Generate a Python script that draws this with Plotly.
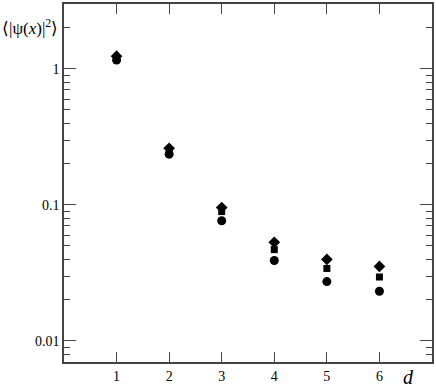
import plotly.graph_objects as go

d = [1, 2, 3, 4, 5, 6]
circles = [1.16, 0.236, 0.0764, 0.039, 0.0273, 0.0232]
squares = [1.20, 0.248, 0.0893, 0.0469, 0.0341, 0.0295]
diamonds = [1.24, 0.261, 0.0955, 0.0531, 0.0397, 0.0353]

W, H = 436, 388
ML, MR, MT, MB = 64, 2, 2, 26

fig = go.Figure()
fig.add_trace(go.Scatter(x=d, y=circles, mode='markers',
                         marker=dict(symbol='circle', size=9, color='black')))
fig.add_trace(go.Scatter(x=d, y=squares, mode='markers',
                         marker=dict(symbol='square', size=7, color='black')))
fig.add_trace(go.Scatter(x=d, y=diamonds, mode='markers',
                         marker=dict(symbol='diamond', size=9, color='black')))

serif = 'Liberation Serif, Times New Roman, serif'
fig.update_layout(
    width=W, height=H,
    margin=dict(l=ML, r=MR, t=MT, b=MB),
    paper_bgcolor='white', plot_bgcolor='white',
    showlegend=False,
    font=dict(family=serif, size=14, color='black'),
)
fig.update_xaxes(range=[0, 7], tickvals=d, ticks='inside', ticklen=10,
                 tickcolor='#444', showline=True, linecolor='#444', linewidth=1.5,
                 mirror='allticks', showgrid=False, zeroline=False)
fig.update_yaxes(type='log', range=[-2.155, 0.477], tickvals=[0.01, 0.1, 1],
                 ticktext=['0.01', '0.1', '1'], ticks='inside', ticklen=12,
                 tickcolor='#444', showline=True, linecolor='#444', linewidth=1.5,
                 mirror='allticks', showgrid=False, zeroline=False,
                 minor=dict(ticks='inside', ticklen=6, tickcolor='#444', dtick='D1', showgrid=False))

fig.add_annotation(text='⟨|ψ(<i>x</i>)|<sup>2</sup>⟩', xref='paper', yref='paper',
                   x=-ML / (W - ML - MR) - 0.002, xanchor='left', y=1 - 23 / (H - MT - MB),
                   yanchor='middle', showarrow=False, font=dict(family=serif, size=17))
fig.add_annotation(text='<i>d</i>', xref='paper', yref='paper',
                   x=0.935, xanchor='center', y=-0.043, yanchor='middle',
                   showarrow=False, font=dict(family=serif, size=20))

fig.write_html("out.html", config={'displayModeBar': False},
               post_script="document.body.style.margin='0';")
